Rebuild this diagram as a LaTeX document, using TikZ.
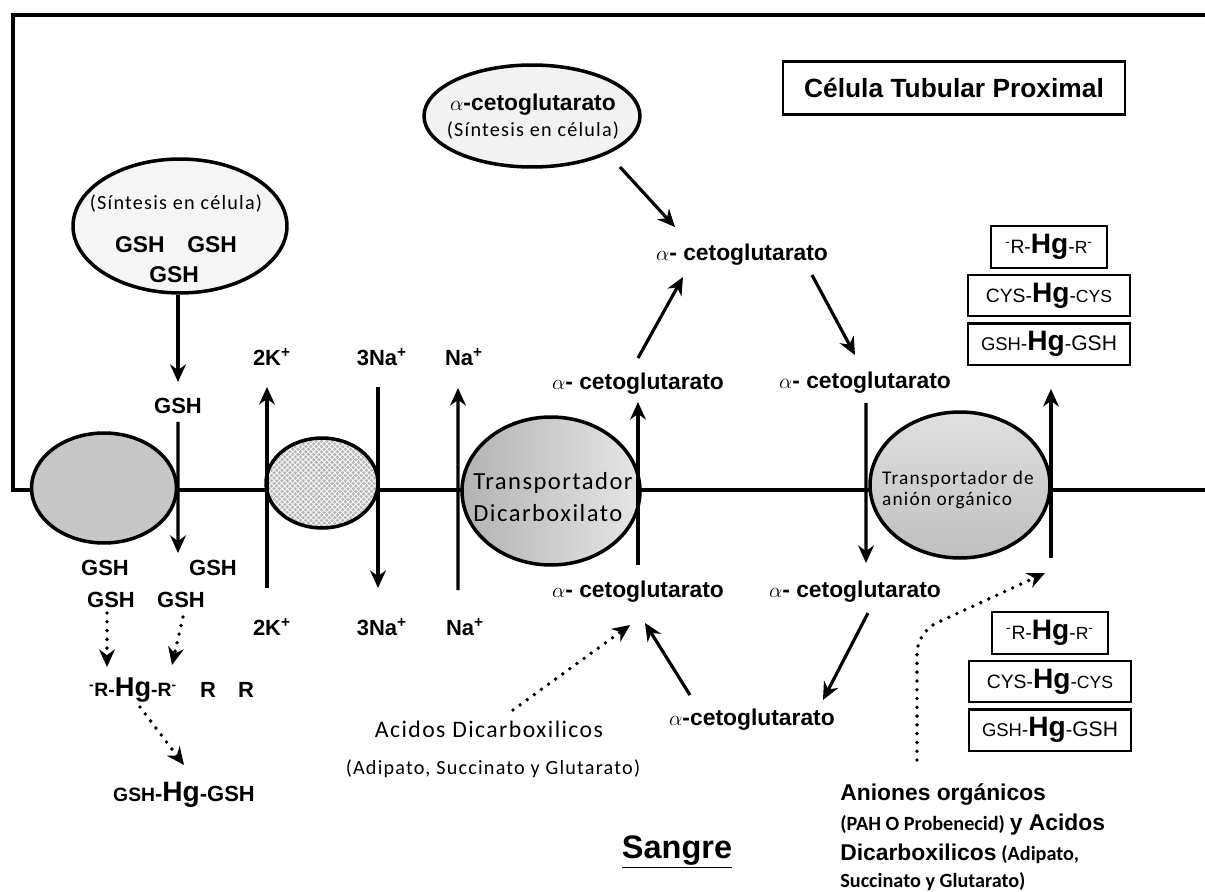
\documentclass[tikz,border=0pt]{standalone}
\usepackage{fontspec}
\setmainfont{Liberation Sans}
\newfontfamily\carl{Carlito}
\newfontfamily\carlw[LetterSpace=6]{Carlito}
\usepackage{tikz}
\usetikzlibrary{
	positioning,
	arrows.meta,
	shapes.geometric,
	patterns
}
\newcommand\hgbig{{\bfseries\fontsize{16}{16}\selectfont Hg}}
\newcommand\anbig{\bfseries\fontsize{13}{15}\selectfont}
\newcommand\ansmall{\carl\bfseries\fontsize{11.5}{13}\selectfont}
\newcommand\supm{\textsuperscript{-}}

\begin{document}
\begin{tikzpicture}[x=0.02cm, y=-0.02cm, node distance=0.1cm,
	lbl/.style={font=\bfseries\fontsize{13}{15}\selectfont, inner sep=1pt},
	ion/.style={font=\bfseries\fontsize{12.5}{14}\selectfont, inner sep=1pt},
	carl/.style={font=\carlw\fontsize{11.5}{13}\selectfont, inner sep=1pt},
	hgbox/.style={draw, line width=1.2pt, inner sep=0pt, minimum height=0.83cm, font=\fontsize{11}{13}\selectfont},
	memb/.style={line width=2.4pt},
	trans/.style={ellipse, draw, line width=2pt, inner sep=0pt},
	flow/.style={line width=1.8pt, -{Stealth[length=10pt,width=9pt]}},
	dotflow/.style={line width=2.2pt, line cap=round, dash pattern=on 0pt off 5pt, -{Stealth[length=10pt,width=9pt]}}
]
	\useasboundingbox (0,0) rectangle (1205,892);

	\draw[memb] (1205,15) -- (13,15) -- (13,490) -- (1205,490);

	\node[trans, fill=gray!8, minimum width=4.28cm, minimum height=2.68cm] (gshsrc) at (180,226) {};
	\node[carl] (syn1) at (176,204) {(Síntesis en célula)};
	\node[ion, font=\bfseries\fontsize{13}{15}\selectfont] (gshA) at (176,245) {GSH\quad GSH};
	\node[ion, font=\bfseries\fontsize{13}{15}\selectfont] (gshB) at (174,275) {GSH};

	\node[trans, fill=gray!10, minimum width=4.32cm, minimum height=2.04cm] (aksrc) at (532,116) {};
	\node[lbl] (akname) at (533,105) {$\alpha$-cetoglutarato};
	\node[carl] (syn2) at (533,131) {(Síntesis en célula)};

	\node[draw, line width=1.5pt, minimum width=6.84cm, minimum height=1.06cm,
		font=\bfseries\fontsize{15}{17}\selectfont] (title) at (954,88) {Célula Tubular Proximal};

	\node[trans, fill=gray!45, minimum width=2.9cm, minimum height=2.2cm] (mrp) at (104,488) {};
	\node[trans, preaction={fill=gray!55}, pattern=crosshatch, pattern color=white,
		minimum width=2.24cm, minimum height=1.8cm] (atpase) at (322,483) {};
	\node[trans, left color=gray!60, right color=gray!20, minimum width=3.56cm, minimum height=2.96cm] (dct) at (551,491) {};
	\node[align=left, inner sep=0pt, font=\carlw\fontsize{14}{18}\selectfont] (dcttxt) at (553,497) {Transportador\\Dicarboxilato};
	\node[trans, top color=gray!25, bottom color=gray!50, minimum width=3.6cm, minimum height=2.92cm] (oat) at (960,485) {};
	\node[align=left, inner sep=0pt, font=\carlw\fontsize{11}{12}\selectfont] (oattxt) at (958,490) {Transportador de\\anión orgánico};

	\node[ion] (gshin) at (178,406) {GSH};
	\node[ion] (gsh1) at (105,568) {GSH};
	\node[ion] (gsh2) at (213,568) {GSH};
	\node[ion] (gsh3) at (111,600) {GSH};
	\node[ion] (gsh4) at (181,600) {GSH};
	\node[ion, font=\bfseries\fontsize{11}{13}\selectfont] (rhg) at (133,690) {\supm R-{\fontsize{15.5}{16}\selectfont Hg}-R\supm};
	\node[ion] (r1) at (208,690) {R};
	\node[ion] (r2) at (246,690) {R};
	\node[ion] (hgg) at (184,795) {{\fontsize{11}{13}\selectfont GSH}-\hgbig-GSH};

	\node[ion] (ktop) at (272,357) {2K\textsuperscript{+}};
	\node[ion] (kbot) at (272,627) {2K\textsuperscript{+}};
	\node[ion] (natop) at (382,357) {3Na\textsuperscript{+}};
	\node[ion] (nabot) at (382,627) {3Na\textsuperscript{+}};
	\node[ion] (ntop) at (464,357) {Na\textsuperscript{+}};
	\node[ion] (nbot) at (465,627) {Na\textsuperscript{+}};

	\node[lbl] (a1) at (742,255) {$\alpha$- cetoglutarato};
	\node[lbl] (a2) at (638,384) {$\alpha$- cetoglutarato};
	\node[lbl] (a3) at (865,383) {$\alpha$- cetoglutarato};
	\node[lbl] (a4) at (638,592) {$\alpha$- cetoglutarato};
	\node[lbl] (a5) at (855,592) {$\alpha$- cetoglutarato};
	\node[lbl] (a6) at (752,720) {$\alpha$-cetoglutarato};

	\node[font=\carlw\fontsize{13.5}{15}\selectfont, inner sep=1pt] (acid) at (489,729) {Acidos Dicarboxilicos};
	\node[font=\carlw\fontsize{11.5}{13}\selectfont, inner sep=1pt] (acidx) at (493,769) {(Adipato, Succinato y Glutarato)};

	\node[hgbox, minimum width=2.32cm] (b1) at (1049,247) {\supm R-\hgbig-{\fontsize{10}{12}\selectfont R}\supm};
	\node[hgbox, minimum width=3.24cm, below=of b1] (b2) {CYS-\hgbig-{\fontsize{10}{12}\selectfont CYS}};
	\node[hgbox, minimum width=3.24cm, below=of b2] (b3) {{\fontsize{10.5}{12}\selectfont GSH}-\hgbig-{\fontsize{12}{14}\selectfont GSH}};
	\node[hgbox, minimum width=2.32cm] (c1) at (1050,633) {\supm R-\hgbig-{\fontsize{10}{12}\selectfont R}\supm};
	\node[hgbox, minimum width=3.24cm, below=of c1] (c2) {CYS-\hgbig-{\fontsize{10}{12}\selectfont CYS}};
	\node[hgbox, minimum width=3.24cm, below=of c2] (c3) {{\fontsize{10.5}{12}\selectfont GSH}-\hgbig-{\fontsize{12}{14}\selectfont GSH}};

	\node[anchor=base west, inner sep=0pt, font=\anbig] (an1) at (840,800) {Aniones orgánicos};
	\node[anchor=base west, inner sep=0pt] (an2) at (840,830) {{\ansmall (PAH O Probenecid)} {\anbig y Acidos}};
	\node[anchor=base west, inner sep=0pt] (an3) at (840,860) {{\anbig Dicarboxilicos} {\ansmall (Adipato,}};
	\node[anchor=base west, inner sep=0pt, font=\ansmall] (an4) at (840,887) {Succinato y Glutarato)};

	\node[font=\bfseries\fontsize{18.5}{20}\selectfont] (blood) at (677,852) {\underline{Sangre}};

	\draw[flow] (gshin.center |- gshsrc.south) -- ([yshift=0.48cm]gshin.center);
	\draw[flow] ([yshift=-0.32cm]gshin.center) -- ([xshift=-0.7cm,yshift=0.3cm]gsh2.center);
	\draw[dotflow] ([xshift=-0.08cm,yshift=-0.26cm]gsh3.center) -- ([xshift=-0.52cm,yshift=0.46cm]rhg.center);
	\draw[dotflow] ([xshift=0.04cm,yshift=-0.34cm]gsh4.center) -- ([xshift=0.78cm,yshift=0.5cm]rhg.center);
	\draw[dotflow] ([xshift=0.14cm,yshift=-0.34cm]rhg.center) -- ([yshift=0.6cm]hgg.center);

	\draw[flow] ([xshift=-0.1cm,yshift=0.78cm]kbot.center) -- ([xshift=-0.1cm,yshift=-0.6cm]ktop.center);
	\draw[flow] ([xshift=-0.08cm,yshift=-0.6cm]natop.center) -- ([xshift=-0.08cm,yshift=0.78cm]nabot.center);
	\draw[flow] ([xshift=-0.14cm,yshift=0.74cm]nbot.center) -- ([xshift=-0.12cm,yshift=-0.62cm]ntop.center);

	\draw[flow] ([xshift=1.76cm,yshift=-1.02cm]aksrc.center) -- ([xshift=-1.34cm,yshift=0.56cm]a1.center);
	\draw[flow] ([yshift=0.52cm]a2.center) -- ([xshift=-1.18cm,yshift=-0.44cm]a1.center);
	\draw[flow] ([xshift=1.4cm,yshift=-0.4cm]a1.center) -- ([xshift=-0.2cm,yshift=0.56cm]a3.center);
	\draw[flow] ([xshift=0.02cm,yshift=-0.4cm]a3.center) -- ([xshift=0.22cm,yshift=0.58cm]a5.center);
	\draw[flow] ([xshift=0.26cm,yshift=-0.42cm]a5.center) -- ([xshift=1.42cm,yshift=0.4cm]a6.center);
	\draw[flow] ([xshift=-1.24cm,yshift=0.5cm]a6.center) -- ([xshift=0.14cm,yshift=-0.62cm]a4.center);
	\draw[flow] ([yshift=0.54cm]a4.center) -- ([yshift=-0.36cm]a2.center);
	\draw[dotflow] ([xshift=0.48cm,yshift=0.38cm]acid.center) -- ([xshift=-0.16cm,yshift=-0.66cm]a4.center);

	\draw[flow] ([xshift=1.82cm,yshift=-1.46cm]oat.center) -- ([xshift=1.82cm,yshift=-0.46cm]oat.center |- b3.south);
	\draw[dotflow, rounded corners=12pt] ([xshift=1.54cm,yshift=0.8cm]an1.base west) -- ++(0,-128) -- ([xshift=1.7cm,yshift=-1.76cm]oat.center);
\end{tikzpicture}
\end{document}
